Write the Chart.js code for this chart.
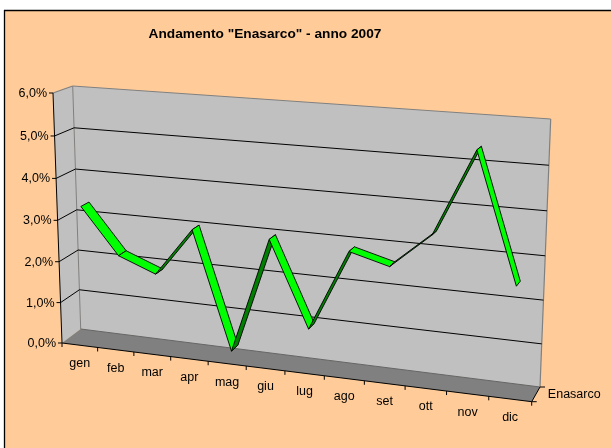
<!DOCTYPE html>
<html>
<head>
<meta charset="utf-8">
<script src="https://cdn.jsdelivr.net/npm/chart.js@4/dist/chart.umd.min.js"></script>
<style>
  html, body { margin: 0; padding: 0; background: #ffffff; }
  canvas { display: block; }
</style>
</head>
<body>
<canvas id="c" width="611" height="448"></canvas>
<script>
// ---- data ----
const months = ['gen', 'feb', 'mar', 'apr', 'mag', 'giu', 'lug', 'ago', 'set', 'ott', 'nov', 'dic'];
const enasarco = [3.3, 2.2, 1.85, 3.0, 0.2, 2.95, 0.95, 2.85, 2.6, 3.4, 5.35, 2.45];
const yTickValues = [0, 1, 2, 3, 4, 5, 6];
const yTickLabels = ['0,0%', '1,0%', '2,0%', '3,0%', '4,0%', '5,0%', '6,0%'];
const seriesName = 'Enasarco';
const titleText = 'Andamento "Enasarco" - anno 2007';

// ---- 3D frame geometry (layout only) ----
// corners: bottom-left, bottom-right, top-right, top-left
const backQuad  = [[80.7, 329], [540, 387], [550.7, 119], [72.7, 86]];
const frontQuad = [[62, 343], [531.7, 401.7], [541.4, 126.3], [53, 93]];
const ribbonBack = 0.27, ribbonFront = 0.7;

const FONT = '"Liberation Sans", Arial, sans-serif';
const PEACH = '#FFCC99', WALL = '#C0C0C0', FLOOR = '#808080', EDGE = '#808080';

function homog(q) {
  const [x0, y0] = q[0], [x1, y1] = q[1], [x2, y2] = q[2], [x3, y3] = q[3];
  const dx1 = x1 - x2, dx2 = x3 - x2, dx3 = x0 - x1 + x2 - x3;
  const dy1 = y1 - y2, dy2 = y3 - y2, dy3 = y0 - y1 + y2 - y3;
  const den = dx1 * dy2 - dx2 * dy1;
  const g = (dx3 * dy2 - dx2 * dy3) / den, h = (dx1 * dy3 - dx3 * dy1) / den;
  const a = x1 - x0 + g * x1, b = x3 - x0 + h * x3, c = x0;
  const d = y1 - y0 + g * y1, e = y3 - y0 + h * y3, f = y0;
  return (u, v) => { const W = g * u + h * v + 1; return [(a * u + b * v + c) / W, (d * u + e * v + f) / W]; };
}
function proj(u, v, w) {
  const q = backQuad.map((p, i) => [p[0] * (1 - w) + frontQuad[i][0] * w, p[1] * (1 - w) + frontQuad[i][1] * w]);
  return homog(q)(u, v);
}
function poly(ctx, pts, fill, stroke, lw) {
  ctx.beginPath();
  pts.forEach((p, i) => i ? ctx.lineTo(p[0], p[1]) : ctx.moveTo(p[0], p[1]));
  ctx.closePath();
  if (fill) { ctx.fillStyle = fill; ctx.fill(); }
  if (stroke) { ctx.strokeStyle = stroke; ctx.lineWidth = lw || 1; ctx.stroke(); }
}
function line(ctx, a, b, color, lw) {
  ctx.beginPath(); ctx.moveTo(a[0], a[1]); ctx.lineTo(b[0], b[1]);
  ctx.strokeStyle = color; ctx.lineWidth = lw || 1; ctx.stroke();
}

const frame3d = {
  id: 'frame3d',
  beforeDraw(chart) {
    const ctx = chart.ctx, ca = chart.chartArea;
    const ys = chart.scales.y;
    ctx.save();
    // background and border
    ctx.fillStyle = '#ffffff'; ctx.fillRect(0, 0, chart.width, chart.height);
    ctx.fillStyle = PEACH; ctx.fillRect(4, 10, chart.width - 4, chart.height - 10);
    line(ctx, [4, 10.5], [chart.width, 10.5], '#000', 1.3);
    line(ctx, [4.5, 10], [4.5, chart.height], '#000', 1.3);

    // left side wall
    poly(ctx, [proj(0, 0, 1), proj(0, 1, 1), proj(0, 1, 0), proj(0, 0, 0)], WALL);
    // back wall
    poly(ctx, [proj(0, 0, 0), proj(1, 0, 0), proj(1, 1, 0), proj(0, 1, 0)], WALL);
    // floor
    poly(ctx, [proj(0, 0, 0), proj(1, 0, 0), proj(1, 0, 1), proj(0, 0, 1)], FLOOR);
    // wall edges
    line(ctx, proj(0, 1, 1), proj(0, 1, 0), EDGE, 1.2);
    line(ctx, proj(0, 1, 0), proj(1, 1, 0), EDGE, 1.2);
    line(ctx, proj(1, 1, 0), proj(1, 0, 0), EDGE, 1.2);
    line(ctx, proj(0, 1, 0), proj(0, 0, 0), EDGE, 1);
    line(ctx, proj(0, 0, 0), proj(1, 0, 0), '#666', 1);

    // gridlines + y ticks + y labels
    const vOf = val => (ca.bottom - ys.getPixelForValue(val)) / ca.height;
    ctx.font = '12.5px ' + FONT;
    ctx.fillStyle = '#000';
    ctx.textAlign = 'right';
    ctx.textBaseline = 'middle';
    yTickValues.forEach((val, i) => {
      const v = vOf(val);
      const f = proj(0, v, 1);
      if (val > 0 && val < 6) {
        line(ctx, f, proj(0, v, 0), '#000', 1);
        line(ctx, proj(0, v, 0), proj(1, v, 0), '#000', 1);
      }
      line(ctx, [f[0] - 4, f[1]], f, '#000', 1);
      ctx.fillText(yTickLabels[i], f[0] - 6, f[1] + 0.5);
    });
    // y axis line (front-left edge)
    line(ctx, proj(0, 0, 1), proj(0, 1, 1), '#000', 1);

    // x axis (front floor edge) + ticks + labels
    line(ctx, proj(0, 0, 1), proj(1, 0, 1), '#000', 1);
    const xs = chart.scales.x;
    const n = months.length;
    for (let k = 0; k <= n; k++) {
      const p = proj(k / n, 0, 1);
      line(ctx, p, [p[0], p[1] + 4], '#000', 1);
    }
    ctx.textAlign = 'center';
    months.forEach((m, i) => {
      const u = (xs.getPixelForValue(i) - ca.left) / ca.width;
      const p = proj(u, 0, 1);
      ctx.fillText(m, p[0], p[1] + 18.5);
    });

    // depth (series) axis
    const d0 = proj(1, 0, 1), d1 = proj(1, 0, 0);
    line(ctx, d0, d1, '#000', 1);
    line(ctx, d0, [d0[0] + 5, d0[1]], '#000', 1);
    line(ctx, d1, [d1[0] + 5, d1[1]], '#000', 1);
    const dm = proj(1, 0, 0.5);
    ctx.textAlign = 'left';
    ctx.fillText(chart.data.datasets[0].label, dm[0] + 12, dm[1] + 0.5);
    ctx.restore();
  },
  afterDatasetsDraw(chart) {
    const ctx = chart.ctx, ca = chart.chartArea;
    const meta = chart.getDatasetMeta(0);
    const pts = meta.data.map(el => ({ u: (el.x - ca.left) / ca.width, v: (ca.bottom - el.y) / ca.height }));
    ctx.save();
    ctx.lineJoin = 'miter';
    for (let i = 0; i < pts.length - 1; i++) {
      const A = pts[i], B = pts[i + 1];
      const a1 = proj(A.u, A.v, ribbonBack), b1 = proj(B.u, B.v, ribbonBack);
      const b2 = proj(B.u, B.v, ribbonFront), a2 = proj(A.u, A.v, ribbonFront);
      const color = B.v < A.v ? '#00FF00' : '#008000';
      poly(ctx, [a1, b1, b2, a2], color, '#000', 0.9);
    }
    ctx.restore();
  }
};

new Chart(document.getElementById('c'), {
  type: 'line',
  data: {
    labels: months,
    datasets: [{
      label: seriesName,
      data: enasarco,
      showLine: false,
      pointRadius: 0,
      pointHoverRadius: 0,
      borderWidth: 0,
      borderColor: 'rgba(0,0,0,0)'
    }]
  },
  options: {
    responsive: false,
    animation: false,
    devicePixelRatio: 1,
    events: [],
    layout: { padding: { left: 0, right: 81, top: 0, bottom: 0 } },
    plugins: {
      legend: { display: false },
      tooltip: { enabled: false },
      title: {
        display: true,
        text: titleText,
        color: '#000',
        font: { family: FONT, size: 13.7, weight: 'bold' },
        padding: { top: 26, bottom: 10 }
      }
    },
    scales: {
      x: { display: false, offset: true },
      y: { display: false, min: 0, max: 6, ticks: { stepSize: 1 } }
    }
  },
  plugins: [frame3d]
});
</script>
</body>
</html>
